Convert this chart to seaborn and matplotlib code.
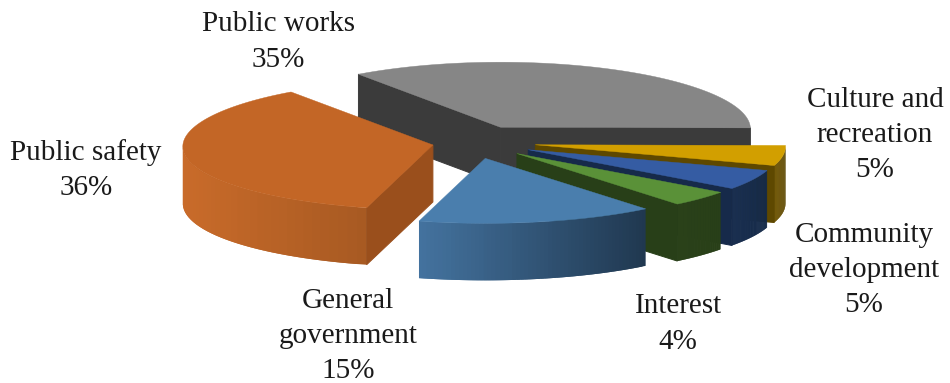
import numpy as np
import matplotlib
matplotlib.use("Agg")
import matplotlib.pyplot as plt
import seaborn as sns

# Municipal expenditure shares, clockwise from the front-left of the pie
categories = ["Public safety", "Public works", "Culture and\nrecreation",
              "Community\ndevelopment", "Interest", "General\ngovernment"]
shares = [36, 35, 5, 5, 4, 15]
top_colors = ["#c36626", "#868686", "#d29f00", "#355ca3", "#5a9138", "#4a7ead"]
cut_colors = ["#9a4f1c", "#3b3b3b", "#5e4800", "#162a4a", "#283f18", "#1f3850"]
rim_left = ["#c96b2a", "#3b3b3b", "#6f5400", "#1a2f50", "#2a4119", "#44739f"]
rim_right = ["#a85a22", "#3b3b3b", "#5e4800", "#152a48", "#283f18", "#203850"]
label_xy = [(86, 170), (278, 42), (875, 135), (864, 270), (678, 324), (348, 336)]

# Projection of the tilted pie onto the page
FIRST_ANGLE = -105.0
RX, RY = 250.0, 65.0
DEPTH = 57.0
CX, CY = 474.0, 142.0
EXPLODE_X, EXPLODE_Y = 52.0, 16.7

sns.set_theme(style="white")
plt.rcParams["font.family"] = ["Liberation Serif", "DejaVu Serif"]

fig = plt.figure(figsize=(9.5, 3.83), dpi=100)
ax = fig.add_axes([0, 0, 1, 1])
ax.set_xlim(0, 950)
ax.set_ylim(383, 0)
ax.axis("off")


def rim(apex, deg):
    t = np.radians(deg)
    # Slight foreshortening: the far side of the pie is a little narrower
    return apex[0] + RX * np.cos(t) * (1 - 0.025 * np.sin(t)), apex[1] - RY * np.sin(t)


def draw_slice(i, start, end, apex):
    """Draw one wedge running clockwise from start to end, in degrees."""
    order = 10 + draw_rank[i]
    # Outer wall as overlapping shaded strips along the front of the rim
    angles = np.linspace(start, end, 60)
    front = angles[np.sin(np.radians(angles)) <= 0.0]
    if front.size > 1:
        xs, ys = rim(apex, front)
        lo, hi = xs.min(), xs.max()
        shades = sns.blend_palette([rim_left[i], rim_right[i]], 64)
        for k in range(front.size - 1):
            j = min(k + 2, front.size - 1)
            shade = shades[int(63 * (xs[k] - lo) / max(hi - lo, 1))]
            ax.fill(np.r_[xs[k:j + 1], xs[k:j + 1][::-1]],
                    np.r_[ys[k:j + 1], ys[k:j + 1][::-1] + DEPTH],
                    color=shade, lw=0, zorder=order)
    # Radial cut faces that turn toward the viewer, closing the wall seams
    for deg in (start, end):
        visible = (deg == start and np.cos(np.radians(start)) < 0) or \
                  (deg == end and np.cos(np.radians(end)) > 0)
        if visible:
            x, y = rim(apex, deg)
            ax.fill([apex[0], x, x, apex[0]],
                    [apex[1], y, y + DEPTH, apex[1] + DEPTH],
                    color=cut_colors[i], lw=0.7, zorder=order + 0.2)
    # Top face
    arc = np.linspace(start, end, 160)
    xs, ys = rim(apex, arc)
    ax.fill(np.r_[apex[0], xs], np.r_[apex[1], ys],
            color=top_colors[i], lw=0.3, zorder=order + 0.5)


sweeps = np.array(shares) / sum(shares) * 360.0
edges = FIRST_ANGLE - np.r_[0.0, np.cumsum(sweeps)]
mids = (edges[:-1] + edges[1:]) / 2
# Back wedges are painted first so nearer ones overlap them
draw_rank = {int(i): r for r, i in enumerate(np.argsort(-np.sin(np.radians(mids))))}

for i in range(len(shares)):
    c = np.cos(np.radians(mids[i]))
    s = np.sin(np.radians(mids[i]))
    apex = (CX + EXPLODE_X * c * (1 + 0.2 * c), CY - EXPLODE_Y * s)
    draw_slice(i, edges[i], edges[i + 1], apex)

for name, share, (x, y) in zip(categories, shares, label_xy):
    ax.text(x, y, f"{name}\n{share}%", ha="center", va="center", fontsize=21,
            color="#1a1a1a", linespacing=1.47, zorder=30)

fig.savefig("out.png", dpi=100, facecolor="white")
